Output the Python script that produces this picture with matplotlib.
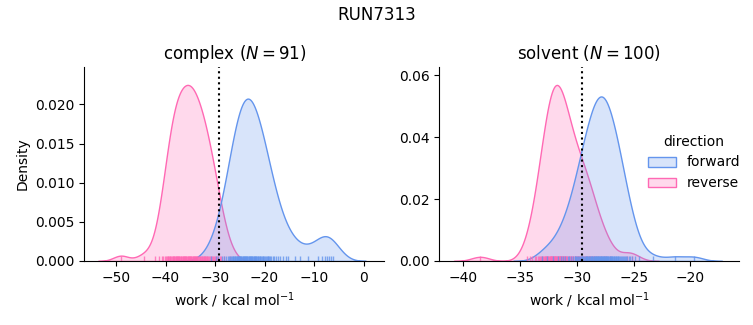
import numpy as np
import matplotlib
matplotlib.use("Agg")
import matplotlib.pyplot as plt
from matplotlib.patches import Patch

# ---------------- data (work values, kcal/mol) ----------------
run_name = "RUN7313"
phases = ["complex", "solvent"]
directions = ["forward", "reverse"]

complex_forward = [
    -30.8, -29.9, -29.3, -28.6, -28.2, -27.7,
    -27.45, -27.2, -27.0, -26.8, -26.6,
    -26.45, -26.3, -26.2, -26.05, -25.9, -25.8, -25.65, -25.55,
    -25.45, -25.35, -25.2, -25.1, -25.0, -24.9, -24.8, -24.7, -24.55,
    -24.45, -24.35, -24.2, -24.1, -24.0, -23.9, -23.8, -23.7, -23.55,
    -23.45, -23.35, -23.2, -23.1, -23.0, -22.9, -22.8, -22.7, -22.55,
    -22.45, -22.3, -22.2, -22.1, -22.0, -21.9, -21.8, -21.7, -21.55,
    -21.4, -21.25, -21.1, -21.0, -20.85, -20.7, -20.55,
    -20.4, -20.25, -20.1, -19.9, -19.75, -19.6,
    -19.4, -19.2, -19.0, -18.8, -18.6, -18.3, -18.0, -17.7, -17.3, -16.8,
    -16.2, -15.7, -15.2, -13.9, -12.9, -11.2, -9.3, -8.3, -7.8,
    -7.4, -7.0, -6.6, -6.2,
]
complex_reverse = [
    -49.0, -44.4, -42.1, -41.3, -40.7,
    -40.45, -40.2, -40.0, -39.8, -39.6,
    -39.45, -39.3, -39.15, -39.0, -38.85, -38.7, -38.55,
    -38.45, -38.35, -38.25, -38.15, -37.95, -37.85, -37.75, -37.65, -37.55,
    -37.45, -37.3, -37.2, -37.05, -36.95, -36.8, -36.65, -36.55,
    -36.45, -36.3, -36.2, -36.1, -36.0, -35.9, -35.8, -35.65, -35.55,
    -35.45, -35.35, -35.2, -35.1, -35.0, -34.9, -34.8, -34.65, -34.55,
    -34.4, -34.3, -34.2, -34.1, -34.0, -33.9, -33.8, -33.7, -33.55,
    -33.4, -33.25, -33.1, -33.0, -32.85, -32.7, -32.55,
    -32.45, -32.3, -32.2, -32.05, -31.95, -31.8, -31.7, -31.55,
    -31.4, -31.2, -31.0, -30.8, -30.6,
    -30.4, -30.2, -30.0, -29.8, -29.6,
    -29.3, -29.0, -28.7, -28.1, -26.9,
]
solvent_forward = [
    -33.1, -32.6, -32.1, -31.65, -31.4, -31.2, -31.0, -30.8,
    -30.7, -30.55, -30.35,
    -30.2, -30.12, -30.04, -29.96, -29.88, -29.8,
    -29.72, -29.65, -29.57, -29.5, -29.43, -29.35, -29.28,
    -29.22, -29.17, -29.11, -29.06, -29.0, -28.94, -28.89, -28.83, -28.78,
    -28.72, -28.67, -28.62, -28.57, -28.52, -28.47, -28.42, -28.37, -28.32, -28.27,
    -28.22, -28.18, -28.14, -28.1, -28.06, -28.02, -27.98, -27.94, -27.9, -27.86, -27.82, -27.78,
    -27.72, -27.68, -27.63, -27.59, -27.54, -27.5, -27.45, -27.41, -27.36, -27.32, -27.27,
    -27.22, -27.17, -27.12, -27.07, -27.02, -26.97, -26.92, -26.87, -26.82, -26.77,
    -26.7, -26.64, -26.58, -26.52, -26.46, -26.4, -26.34, -26.28,
    -26.2, -26.12, -26.04, -25.96, -25.88, -25.8,
    -25.7, -25.58, -25.45, -25.32, -25.15, -24.9, -24.5, -23.3,
    -21.4, -19.7,
]
solvent_reverse = [
    -38.5, -34.4, -34.1, -33.9, -33.7, -33.57, -33.43, -33.3,
    -33.2, -33.14, -33.08, -33.02, -32.96, -32.9, -32.84, -32.78,
    -32.72, -32.68, -32.63, -32.58, -32.54, -32.5, -32.45, -32.4, -32.36, -32.31, -32.27,
    -32.23, -32.19, -32.15, -32.11, -32.08, -32.04, -32.0, -31.96, -31.92, -31.89,
    -31.85, -31.81, -31.77,
    -31.73, -31.69, -31.65, -31.6, -31.56, -31.52, -31.48, -31.44, -31.4, -31.35,
    -31.31, -31.27,
    -31.22, -31.18, -31.13, -31.09, -31.04, -31.0, -30.95, -30.91, -30.86, -30.82,
    -30.7, -30.65, -30.6, -30.54, -30.48, -30.42, -30.36, -30.3,
    -30.2, -30.13, -30.06, -30.0, -29.93, -29.86, -29.8,
    -29.7, -29.62, -29.54, -29.46, -29.38, -29.3,
    -29.2, -29.12, -29.04, -28.96, -28.88, -28.8,
    -28.7, -28.6, -28.45, -28.3, -28.1, -27.9,
    -27.65, -27.4, -27.05, -25.6, -25.1,
]
free_energy = [-29.1, -29.5]   # dotted vertical line per phase

work = {
    "complex": {"forward": complex_forward, "reverse": complex_reverse},
    "solvent": {"forward": solvent_forward, "reverse": solvent_reverse},
}

# ---------------- style ----------------
colors = {"forward": "#6495ED", "reverse": "#FF69B4"}
xlims = {"complex": (-56.4, 4.2), "solvent": (-42.1, -15.7)}


def kde(samples, weight, gridsize=200, cut=3):
    x = np.asarray(samples, dtype=float)
    n = len(x)
    bw = np.std(x, ddof=1) * n ** (-1 / 5)
    grid = np.linspace(x.min() - cut * bw, x.max() + cut * bw, gridsize)
    z = (grid[:, None] - x[None, :]) / bw
    dens = np.exp(-0.5 * z ** 2).sum(axis=1) / (n * bw * np.sqrt(2 * np.pi))
    return grid, dens * weight


n_all = sum(len(work[p][d]) for p in phases for d in directions)

fig = plt.figure(figsize=(7.53, 3.25), dpi=100)
axes = [fig.add_axes([0.112, 0.197, 0.3984, 0.596]),
        fig.add_axes([0.5834, 0.197, 0.3984, 0.596])]

for ax, phase, dg in zip(axes, phases, free_energy):
    ymax = 0
    for d in ["reverse", "forward"]:
        vals = work[phase][d]
        g, y = kde(vals, len(vals) / n_all)
        ymax = max(ymax, y.max())
        ax.fill_between(g, 0, y, facecolor=matplotlib.colors.to_rgba(colors[d], 0.25),
                        edgecolor=colors[d], linewidth=1)
    for d in ["reverse", "forward"]:
        ax.vlines(work[phase][d], 0, 0.025, transform=ax.get_xaxis_transform(),
                  colors=colors[d], linewidth=1, alpha=0.8)
    ax.axvline(dg, color="black", linestyle=":", linewidth=1.5)
    ax.set_xlim(*xlims[phase])
    ax.set_ylim(0, ymax * 1.1)
    n = len(work[phase]["forward"])
    ax.set_title(f"{phase} ($N = {n}$)")
    ax.set_xlabel("work / kcal mol$^{-1}$")
    ax.spines["top"].set_visible(False)
    ax.spines["right"].set_visible(False)

axes[0].set_ylabel("Density")

handles = [Patch(facecolor=matplotlib.colors.to_rgba(colors[d], 0.25),
                 edgecolor=colors[d], linewidth=1, label=d) for d in directions]
fig.legend(handles=handles, title="direction", loc="center right",
           bbox_to_anchor=(1.0, 0.5), frameon=False)
fig.suptitle(run_name)

fig.savefig("out.png", dpi=100)
